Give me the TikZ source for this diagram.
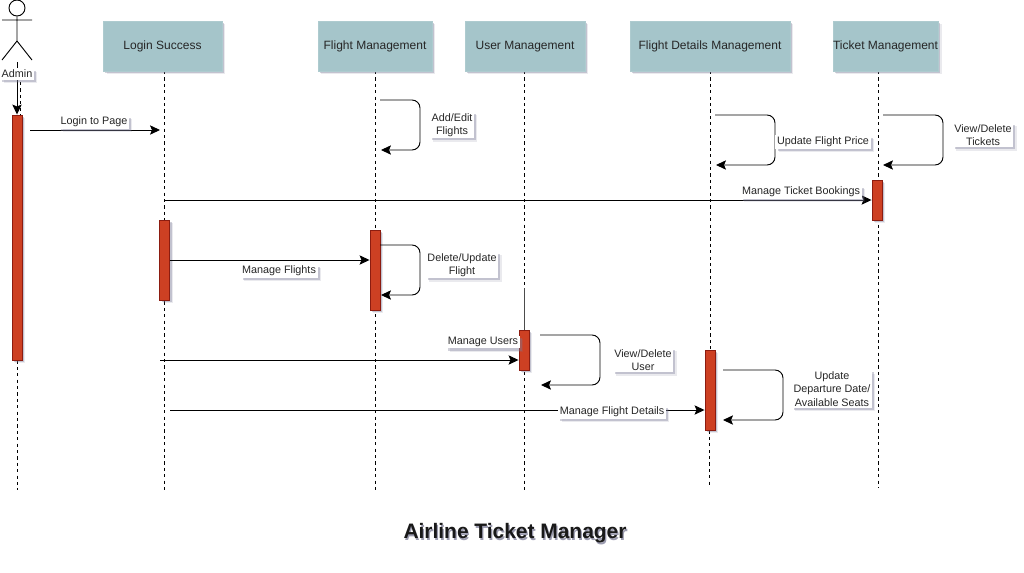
\documentclass[tikz,border=0pt]{standalone}
\usepackage{fontspec}
\setmainfont{Liberation Sans}
\usetikzlibrary{shadows, backgrounds, arrows.meta}
\definecolor{boxteal}{HTML}{A5C5CA}
\definecolor{barred}{HTML}{CD4023}
\definecolor{barline}{HTML}{8C1C10}
\definecolor{softshadow}{HTML}{7A7A95}
\newcommand{\castshadow}[1]{\rlap{\kern0.9pt\raisebox{-1.1pt}{\color{softshadow!75}#1}}#1}

\begin{document}
\begin{tikzpicture}[
    x=0.75pt, y=-0.75pt,
    >={Stealth[length=7.5pt, width=7pt, inset=1.5pt]},
    softdrop/.style={
        general shadow={shadow xshift=2.6pt, shadow yshift=-2.6pt, fill=softshadow, opacity=0.16},
        general shadow={shadow xshift=1.6pt, shadow yshift=-1.6pt, fill=softshadow, opacity=0.35}},
    header/.style={rectangle, draw=boxteal!90!white, fill=boxteal, softdrop, font=\fontsize{9}{11}\selectfont, text=black!85, text height=7pt, text depth=2pt, minimum height=37.5pt, inner sep=0pt},
    bar/.style={rectangle, draw=barline, fill=barred, softdrop, line width=0.7pt, minimum width=7.5pt, inner sep=0pt},
    lifeline/.style={black, line width=0.6pt, dash pattern=on 2.4pt off 2.4pt},
    msg/.style={black, line width=0.7pt, ->},
    selfmsg/.style={msg, rounded corners=6pt},
    note/.style={rectangle, fill=white, softdrop, font=\fontsize{8.1}{9.9}\selectfont, text=black!85, align=center, inner sep=1.2pt}
]
    \useasboundingbox (0,0) rectangle (1024,572);

    % --- ACTOR ---
    \node[circle, draw, line width=0.7pt, fill=white, minimum size=12pt, inner sep=0pt] (head) at (17,8) {};
    \coordinate (hip) at (17,41);
    \coordinate (armL) at (2,20);
    \coordinate (armR) at (32,20);
    \coordinate (footL) at (2,60);
    \coordinate (footR) at (32,60);
    \draw[line width=0.7pt] (head) -- (hip) (armL) -- (armR) (footL) -- (hip) -- (footR);

    % --- HEADERS ---
    \node[header, minimum width=89pt] (login) at (162.5,46) {Login Success};
    \node[header, minimum width=85.5pt] (flight) at (375,46) {Flight Management};
    \node[header, minimum width=90pt] (user) at (525,46) {User Management};
    \node[header, minimum width=120pt] (details) at (710,46) {Flight Details Management};
    \node[header, minimum width=79pt] (ticket) at (885.5,46) {Ticket Management};

    % --- BARS ---
    \node[bar, minimum height=183.75pt] (adminbar) at (17,237.5) {};
    \node[bar, minimum height=60pt] (loginbar) at (164.5,260) {};
    \node[bar, minimum height=60pt] (flightbar) at (375,270) {};
    \node[bar, minimum height=30pt] (userbar) at (524,350) {};
    \node[bar, minimum height=60pt] (detailsbar) at (710,390) {};
    \node[bar, minimum height=30pt] (ticketbar) at (877,200) {};

    % --- LIFELINES ---
    \coordinate (adminend) at (17,490);
    \coordinate (adminstart) at (20,82);
    \coordinate (loginstart) at (164,71);
    \coordinate (loginend) at (164,490);
    \coordinate (flightstart) at (375,71);
    \coordinate (flightend) at (375,490);
    \coordinate (userstart) at (524,71);
    \coordinate (userend) at (524,490);
    \coordinate (usertwist) at (524,288);
    \coordinate (detailsstart) at (710,71);
    \coordinate (detailsend) at (709,488);
    \coordinate (ticketstart) at (878,71);
    \coordinate (ticketend) at (878,488);
    \begin{scope}[on background layer]
        \draw[lifeline] (adminbar.south) -- (adminend);
        \draw[lifeline] (adminstart) -- (adminstart |- adminbar.north);
        \draw[lifeline] (loginstart) -- (loginend);
        \draw[lifeline] (flightstart) -- (flightend);
        \draw[lifeline] (userstart) -- (userend);
        \draw[black!70, line width=0.5pt] (usertwist) -- (userbar.north);
        \draw[lifeline] (detailsstart) -- (detailsbar.north);
        \draw[lifeline] (detailsend |- detailsbar.south) -- (detailsend);
        \draw[lifeline] (ticketstart) -- (ticketend);
    \end{scope}

    % --- MESSAGES ---
    \coordinate (adminfoot) at (17,62);
    \coordinate (pagefrom) at (30,130);
    \coordinate (pageto) at (160,130);
    \coordinate (bookfrom) at (164,200);
    \coordinate (usersfrom) at (160,360);
    \coordinate (detailsfrom) at (170,410);
    \draw[msg] (adminfoot) -- (adminbar.north);
    \draw[msg] (pagefrom) -- (pageto);
    \draw[msg] (bookfrom) -- (bookfrom -| ticketbar.west);
    \draw[msg] (loginbar.east) -- (loginbar.east -| flightbar.west);
    \draw[msg] (usersfrom) -- (usersfrom -| userbar.west);
    \draw[msg] (detailsfrom) -- (detailsfrom -| detailsbar.west);

    % --- SELF MESSAGES ---
    \coordinate (addfrom) at (380,100);
    \coordinate (addto) at (381,150);
    \coordinate (pricefrom) at (715,115);
    \coordinate (priceto) at (716,165);
    \coordinate (viewfrom) at (883,115);
    \coordinate (viewto) at (883,165);
    \coordinate (delfrom) at (380,245);
    \coordinate (delto) at (381,295);
    \coordinate (userfrom) at (540,335);
    \coordinate (userto) at (541,385);
    \coordinate (datefrom) at (723,370);
    \coordinate (dateto) at (723,420);
    \draw[selfmsg] (addfrom) -- ++(40,0) |- (addto);
    \draw[selfmsg] (pricefrom) -- ++(60,0) |- (priceto);
    \draw[selfmsg] (viewfrom) -- ++(60,0) |- (viewto);
    \draw[selfmsg] (delfrom) -- ++(40,0) |- (delto);
    \draw[selfmsg] (userfrom) -- ++(60,0) |- (userto);
    \draw[selfmsg] (datefrom) -- ++(60,0) |- (dateto);

    % --- LABELS ---
    \node[note] (adminlabel) at (17,74) {Admin};
    \node[note] (pagelabel) at (94,122) {Login to Page};
    \node[note] (addlabel) at (452,125) {Add/Edit\\Flights};
    \node[note] (pricelabel) at (823,142) {Update Flight Price};
    \node[note] (viewlabel) at (983,135) {View/Delete\\Tickets};
    \node[note] (booklabel) at (801,192) {Manage Ticket Bookings};
    \node[note] (flightslabel) at (279,271) {Manage Flights};
    \node[note] (dellabel) at (462,265) {Delete/Update\\Flight};
    \node[note] (userslabel) at (483,342) {Manage Users};
    \node[note] (viewuserlabel) at (643,360) {View/Delete\\User};
    \node[note] (detailslabel) at (612,412) {Manage Flight Details};
    \node[note] (datelabel) at (832,389) {Update\\Departure Date/\\Available Seats};

    % --- TITLE ---
    \node[font=\fontsize{15.7}{18}\selectfont\bfseries, text=black!90] (title) at (515,534) {\castshadow{Airline Ticket Manager}};
\end{tikzpicture}
\end{document}
